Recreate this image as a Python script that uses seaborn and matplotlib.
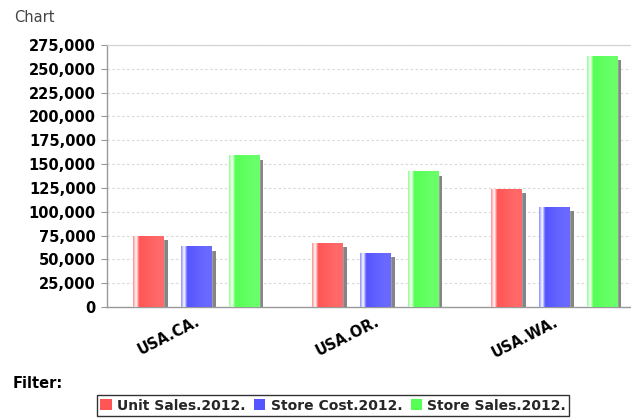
import numpy as np
import pandas as pd
import matplotlib
matplotlib.use("Agg")
import matplotlib.pyplot as plt
from matplotlib.patches import Patch, Rectangle
from matplotlib.transforms import offset_copy
import seaborn as sns

# --- data -------------------------------------------------------------
categories = ["USA.CA.", "USA.OR.", "USA.WA."]
series = ["Unit Sales.2012.", "Store Cost.2012.", "Store Sales.2012."]
unit_sales = [74748, 67659, 124366]
store_cost = [63530.43, 56772.50, 105219.69]
store_sales = [159167.84, 142277.07, 263793.22]
y_ticks = list(range(0, 275001, 25000))

colors = ["#FF5555", "#5555FF", "#55FF55"]

df = pd.DataFrame({
    "category": categories * 3,
    "series": [s for s in series for _ in categories],
    "value": unit_sales + store_cost + store_sales,
})

sns.set_theme(style="white")
plt.rcParams["font.family"] = ["DejaVu Sans"]

W, H = 631, 418
fig = plt.figure(figsize=(W / 100, H / 100), dpi=100)
ax = fig.add_axes([107 / W, (H - 307) / H, 524 / W, 262 / H])

sns.barplot(data=df, x="category", y="value", hue="series",
            palette=colors, order=categories, hue_order=series,
            saturation=1, width=0.8, gap=0.37, ax=ax, legend=False,
            zorder=3, err_kws={"linewidth": 0})


def lighter(rgb, amount):
    rgb = np.array(rgb)
    return rgb + (1.0 - rgb) * amount


def gradient_row(rgb, n=64):
    base = np.array(rgb)
    edge = lighter(rgb, 0.35)
    light = lighter(rgb, 0.12)
    white = np.ones(3)
    t = np.linspace(0, 1, n)
    out = np.zeros((n, 3))
    for i, v in enumerate(t):
        if v < 0.1:
            f = v / 0.1
            out[i] = edge + (white - edge) * f
        elif v < 0.2:
            f = (v - 0.1) / 0.1
            out[i] = white + (base - white) * f
        elif v < 0.8:
            f = (v - 0.2) / 0.6
            out[i] = base + (light - base) * f
        else:
            out[i] = light
    return out[np.newaxis, :, :]


shadow_tf = offset_copy(ax.transData, fig=fig, x=4.5, y=-4.5, units="dots")
bars = [p for p in ax.patches if isinstance(p, Rectangle)]
for p in bars:
    x0, y0 = p.get_x(), p.get_y()
    w, h = p.get_width(), p.get_height()
    shadow = Rectangle((x0, y0), w, h, transform=shadow_tf,
                       facecolor="#858585", edgecolor="none", zorder=2)
    ax.add_patch(shadow)
    rgb = matplotlib.colors.to_rgb(p.get_facecolor())
    img = ax.imshow(gradient_row(rgb), extent=[x0, x0 + w, y0, y0 + h],
                    aspect="auto", interpolation="bilinear", zorder=3.5)
    img.set_clip_path(p)

ax.set_xlim(-0.497, 2.43)
ax.set_ylim(0, 275000)
ax.set_yticks(y_ticks)
ax.set_yticklabels([f"{v:,}" for v in y_ticks], fontsize=10.5,
                   fontweight="bold", color="black")
ax.set_xticks(range(len(categories)))
ax.set_xticklabels(categories, fontsize=10.5, fontweight="bold",
                   rotation=27, ha="right", rotation_mode="anchor",
                   color="black")
ax.set_xlabel("")
ax.set_ylabel("")

ax.tick_params(axis="y", length=4, width=0.8, color="#999999", pad=4,
               left=True)
ax.tick_params(axis="x", length=0, pad=5)

ax.yaxis.grid(True, color="#d9d9d9", linestyle=(0, (2.2, 2.2)),
              linewidth=0.8, zorder=0)
ax.set_axisbelow(True)
ax.spines["right"].set_visible(False)
ax.spines["top"].set_color("#d0d0d0")
ax.spines["top"].set_linewidth(0.8)
ax.spines["left"].set_color("#999999")
ax.spines["bottom"].set_color("#999999")
ax.spines["left"].set_linewidth(1.0)
ax.spines["bottom"].set_linewidth(1.0)

fig.text(14 / W, 1 - 17 / H, "Chart", fontsize=10.5, color="#444444",
         va="center", ha="left")
fig.text(13 / W, 1 - 383 / H, "Filter:", fontsize=10.5, fontweight="bold",
         color="black", va="center", ha="left")

handles = [Patch(facecolor=c, edgecolor="none") for c in colors]
leg = fig.legend(handles, series, loc="lower left",
                 bbox_to_anchor=(97 / W, 2 / H), ncol=3,
                 prop={"weight": "bold", "size": 10},
                 frameon=True, fancybox=False, framealpha=1,
                 edgecolor="#333333", handlelength=0.8, handleheight=0.8,
                 handletextpad=0.4, columnspacing=0.6, borderpad=0.25,
                 borderaxespad=0)
leg.get_frame().set_linewidth(1.0)

fig.savefig("out.png", dpi=100)
